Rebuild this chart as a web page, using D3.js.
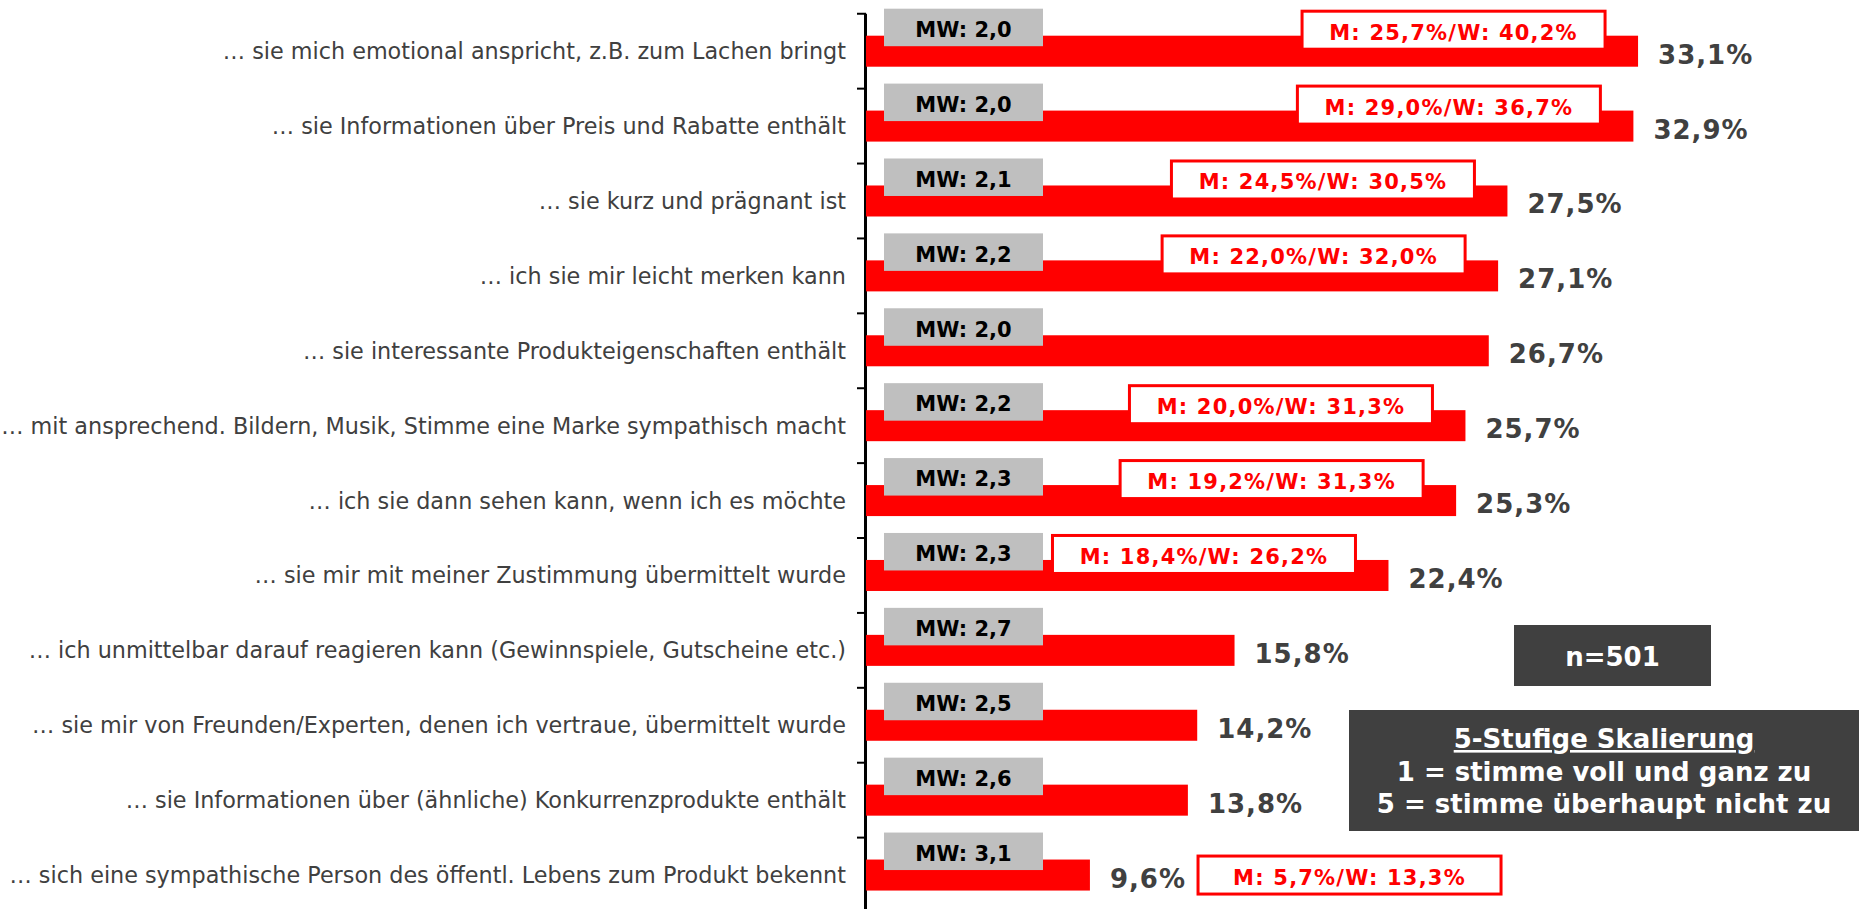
<!DOCTYPE html>
<html>
<head>
<meta charset="utf-8">
<script src="https://cdn.jsdelivr.net/npm/d3@7"></script>
<style>
  body { margin: 0; background: #fff; }
  svg { display: block; font-family: "DejaVu Sans", Verdana, sans-serif; }
</style>
</head>
<body>
<div id="chart"></div>
<script>
// data
var categories = [
  "… sie mich emotional anspricht, z.B. zum Lachen bringt",
  "… sie Informationen über Preis und Rabatte enthält",
  "… sie kurz und prägnant ist",
  "… ich sie mir leicht merken kann",
  "… sie interessante Produkteigenschaften enthält",
  "… mit ansprechend. Bildern, Musik, Stimme eine Marke sympathisch macht",
  "… ich sie dann sehen kann, wenn ich es möchte",
  "… sie mir mit meiner Zustimmung übermittelt wurde",
  "… ich unmittelbar darauf reagieren kann (Gewinnspiele, Gutscheine etc.)",
  "… sie mir von Freunden/Experten, denen ich vertraue, übermittelt wurde",
  "… sie Informationen über (ähnliche) Konkurrenzprodukte enthält",
  "… sich eine sympathische Person des öffentl. Lebens zum Produkt bekennt"
];
var values = [33.1, 32.9, 27.5, 27.1, 26.7, 25.7, 25.3, 22.4, 15.8, 14.2, 13.8, 9.6];
var meanValues = [2.0, 2.0, 2.1, 2.2, 2.0, 2.2, 2.3, 2.3, 2.7, 2.5, 2.6, 3.1];
var menValues = [25.7, 29.0, 24.5, 22.0, null, 20.0, 19.2, 18.4, null, null, null, 5.7];
var womenValues = [40.2, 36.7, 30.5, 32.0, null, 31.3, 31.3, 26.2, null, null, null, 13.3];
var sampleText = "n=501";
var scaleTitle = "5-Stufige Skalierung";
var scaleLines = ["1 = stimme voll und ganz zu", "5 = stimme überhaupt nicht zu"];

var data = categories.map(function(c, i) {
  return {label: c, value: values[i], mw: meanValues[i], m: menValues[i], w: womenValues[i]};
});

var width = 1859, height = 909;
var comma = function(v) { return d3.format(".1f")(v).replace(".", ","); };

var svg = d3.select("#chart")
  .append("svg")
    .attr("width", width)
    .attr("height", height);

// scales
var x = d3.scaleLinear()
  .domain([0, 40])
  .range([866, 1799]);

var y = d3.scaleBand()
  .domain(categories)
  .range([13.75, 912.5])
  .paddingInner(0.586)
  .paddingOuter(0.293);

var gap = y.step() * y.paddingInner() / 2;

// axis line with ticks between the bands
svg.append("line")
  .attr("x1", 865.5).attr("x2", 865.5)
  .attr("y1", y(categories[0]) - gap).attr("y2", height)
  .attr("stroke", "black")
  .attr("stroke-width", 3);

svg.selectAll("mytick")
  .data(categories)
  .enter()
  .append("line")
    .attr("x1", 857).attr("x2", 866)
    .attr("y1", function(d) { return y(d) - gap; })
    .attr("y2", function(d) { return y(d) - gap; })
    .attr("stroke", "black")
    .attr("stroke-width", 2);

// category labels
svg.selectAll("mylabel")
  .data(data)
  .enter()
  .append("text")
    .attr("x", 846)
    .attr("y", function(d) { return y(d.label) + y.bandwidth() / 2 + 8; })
    .attr("text-anchor", "end")
    .style("font-size", "22.3px")
    .style("fill", "#404040")
    .text(function(d) { return d.label; });

// bars
svg.selectAll("mybar")
  .data(data)
  .enter()
  .append("rect")
    .attr("x", x(0))
    .attr("y", function(d) { return y(d.label); })
    .attr("width", function(d) { return x(d.value) - x(0); })
    .attr("height", y.bandwidth())
    .style("fill", "#ff0000");

// value labels
svg.selectAll("myvalue")
  .data(data)
  .enter()
  .append("text")
    .attr("class", "value")
    .attr("x", function(d) { return x(d.value) + 20; })
    .attr("y", function(d) { return y(d.label) + 28; })
    .style("font-size", "26px")
    .style("font-weight", "bold")
    .style("letter-spacing", "1px")
    .style("fill", "#404040")
    .text(function(d) { return comma(d.value) + "%"; });

// grey mean boxes
svg.selectAll("mymw")
  .data(data)
  .enter()
  .append("rect")
    .attr("x", 884)
    .attr("y", function(d) { return y(d.label) - 27; })
    .attr("width", 159)
    .attr("height", 37.5)
    .style("fill", "#bfbfbf");

svg.selectAll("mymwtext")
  .data(data)
  .enter()
  .append("text")
    .attr("x", 963.5)
    .attr("y", function(d) { return y(d.label) + 1.3; })
    .attr("text-anchor", "middle")
    .style("font-size", "21px")
    .style("font-weight", "bold")
    .style("fill", "black")
    .text(function(d) { return "MW: " + comma(d.mw); });

// men / women boxes
var gender = data.filter(function(d) { return d.m != null; });
var boxW = 303, boxH = 38;
var valueEnd = {};
svg.selectAll("text.value").each(function(d) {
  valueEnd[d.label] = x(d.value) + 20 + this.getComputedTextLength();
});

function boxX(d) {
  return d.value < 12 ? valueEnd[d.label] + 12 : x(d.value) - 33 - boxW;
}
function boxY(d) {
  return d.value < 12 ? y(d.label) + y.bandwidth() / 2 - boxH / 2 : y(d.label) - 24.5;
}

svg.selectAll("mygender")
  .data(gender)
  .enter()
  .append("rect")
    .attr("x", boxX)
    .attr("y", boxY)
    .attr("width", boxW)
    .attr("height", boxH)
    .style("fill", "white")
    .attr("stroke", "#ff0000")
    .attr("stroke-width", 3);

svg.selectAll("mygendertext")
  .data(gender)
  .enter()
  .append("text")
    .attr("x", function(d) { return boxX(d) + boxW / 2; })
    .attr("y", function(d) { return boxY(d) + 28.5; })
    .attr("text-anchor", "middle")
    .style("font-size", "21px")
    .style("font-weight", "bold")
    .style("letter-spacing", "1.2px")
    .style("fill", "#ff0000")
    .text(function(d) { return "M: " + comma(d.m) + "%/W: " + comma(d.w) + "%"; });

// sample size box
svg.append("rect")
  .attr("x", 1514).attr("y", 625)
  .attr("width", 197).attr("height", 61)
  .style("fill", "#404040");
svg.append("text")
  .attr("x", 1612.5).attr("y", 666)
  .attr("text-anchor", "middle")
  .style("font-size", "26px")
  .style("font-weight", "bold")
  .style("fill", "white")
  .text(sampleText);

// scale legend box
svg.append("rect")
  .attr("x", 1349).attr("y", 710)
  .attr("width", 510).attr("height", 121)
  .style("fill", "#404040");
svg.append("text")
  .attr("x", 1604).attr("y", 748)
  .attr("text-anchor", "middle")
  .style("font-size", "26px")
  .style("font-weight", "bold")
  .style("text-decoration", "underline")
  .style("fill", "white")
  .text(scaleTitle);
svg.selectAll("myscale")
  .data(scaleLines)
  .enter()
  .append("text")
    .attr("x", 1604)
    .attr("y", function(d, i) { return 780.5 + i * 32; })
    .attr("text-anchor", "middle")
    .style("font-size", "26px")
    .style("font-weight", "bold")
    .style("fill", "white")
    .text(function(d) { return d; });
</script>
</body>
</html>
